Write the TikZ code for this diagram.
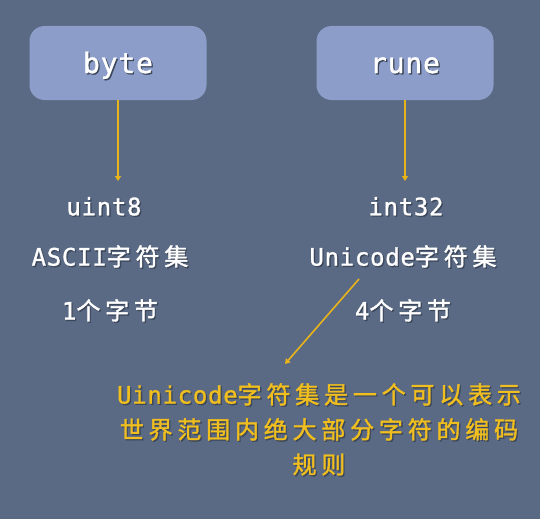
\documentclass[tikz,border=0pt]{standalone}
\usepackage{fontspec}
\usetikzlibrary{arrows.meta}
\newfontfamily\lat{DejaVu Sans Mono}[LetterSpace=3, FakeBold=1.2]
\newfontfamily\cjk{Noto Sans CJK SC}[LetterSpace=20, FakeBold=1.5]
\definecolor{bgc}{HTML}{5A6A84}
\definecolor{boxc}{HTML}{8C9DC9}
\definecolor{arrc}{HTML}{E8B41A}
\definecolor{yelc}{HTML}{F0BE1E}
\definecolor{shadowc}{HTML}{3C475A}
\newcommand\shd[1]{\leavevmode\rlap{\hspace{1.3pt}\raisebox{-1.3pt}{\color{shadowc}#1}}#1}
\tikzset{
  typebox/.style={rounded corners=15pt, fill=boxc, minimum width=177pt, minimum height=74pt,
    text=white, font=\fontsize{28}{32}\selectfont, inner sep=0pt, text height=30pt, text depth=10pt},
  wtxt/.style={text=white, font=\fontsize{24}{28}\selectfont, inner sep=0pt},
  ytxt/.style={text=yelc, font=\fontsize{24}{35}\selectfont, inner sep=0pt, align=center},
  arr/.style={draw=arrc, line width=1.6pt, -{Triangle[width=6pt,length=5pt]}}
}
\begin{document}
\begin{tikzpicture}[x=1pt,y=-1pt]
\fill[bgc] (0,0) rectangle (540,519);
\useasboundingbox (0,0) rectangle (540,519);
\node[typebox] (byte) at (118,63) {\shd{\lat byte}};
\node[typebox] (rune) at (405,63) {\shd{\lat rune}};
\coordinate (e1) at (118,181);
\coordinate (e2) at (405,181);
\draw[arr] (byte.south) -- (e1);
\draw[arr] (rune.south) -- (e2);
\node[wtxt] (uint) at (104,207) {\shd{\lat uint8}};
\node[wtxt] (int) at (406,207) {\shd{\lat int32}};
\node[wtxt] (ascii) at (110,257) {\shd{\lat ASCII}\shd{\cjk 字符集}};
\node[wtxt] (uni) at (403,257) {\shd{\lat Unicode}\shd{\cjk 字符集}};
\node[wtxt] (one) at (110,311) {\shd{\lat 1}\shd{\cjk 个字节}};
\node[wtxt] (four) at (403,311) {\shd{\lat 4}\shd{\cjk 个字节}};
\coordinate (d1) at (359,279);
\coordinate (d2) at (285,364);
\draw[arr] (d1) -- (d2);
\node[ytxt] (note) at (319,430) {\shd{\lat Uinicode}\shd{\cjk 字符集是一个可以表示}\\
  \shd{\cjk 世界范围内绝大部分字符的编码}\\
  \shd{\cjk 规则}};
\end{tikzpicture}
\end{document}
